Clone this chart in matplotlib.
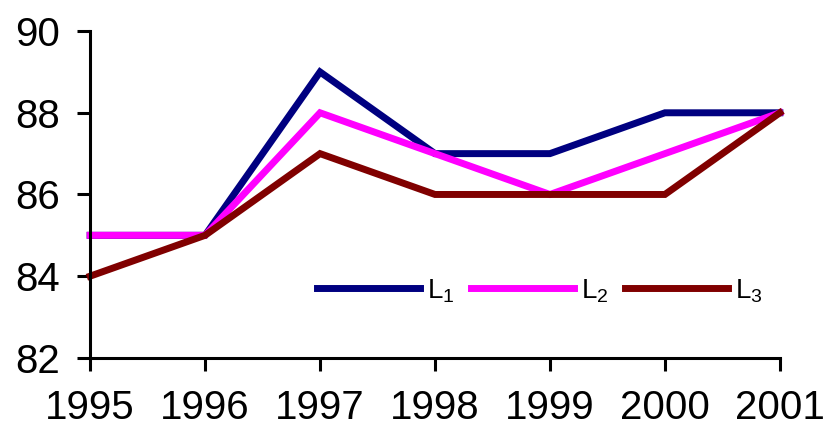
import matplotlib
matplotlib.use('Agg')
from matplotlib import pyplot as plt

plt.rcParams['font.family'] = ['Liberation Sans', 'DejaVu Sans']
plt.rcParams['mathtext.fontset'] = 'custom'
plt.rcParams['mathtext.rm'] = 'Liberation Sans'
plt.rcParams['mathtext.it'] = 'Liberation Sans'

years = ['1995', '1996', '1997', '1998', '1999', '2000', '2001']
l1 = [85, 85, 89, 87, 87, 88, 88]
l2 = [85, 85, 88, 87, 86, 87, 88]
l3 = [84, 85, 87, 86, 86, 86, 88]

series = [
	(l1, '#000080', r'L$_1$'),
	(l2, '#ff00ff', r'L$_2$'),
	(l3, '#800000', r'L$_3$'),
]

fig = plt.figure(figsize=(8.27, 4.26), dpi=100)
ax = fig.add_axes([0.109, 0.160, 0.834, 0.767])

x = list(range(len(years)))
for values, color, label in series:
	ax.plot(x, values, color=color, lw=5, label=label,
		solid_joinstyle='miter', clip_on=False)

ax.set_xlim(0, len(years) - 1)
ax.set_ylim(82, 90)
ax.set_yticks([82, 84, 86, 88, 90])
ax.set_xticks(x)
ax.set_xticklabels(years)

for side in ['top', 'right']:
	ax.spines[side].set_visible(False)
for side in ['left', 'bottom']:
	ax.spines[side].set_linewidth(2.2)

ax.tick_params(axis='both', labelsize=29, width=2.2, length=9.5, colors='black')
ax.tick_params(axis='y', pad=12)
ax.tick_params(axis='x', pad=13)

ax.legend(loc='center', bbox_to_anchor=(0.652, 0.205), ncol=3, frameon=False,
	fontsize=20, handlelength=3.7, handletextpad=0.25, columnspacing=0.6)

fig.savefig('out.png', dpi=100)
